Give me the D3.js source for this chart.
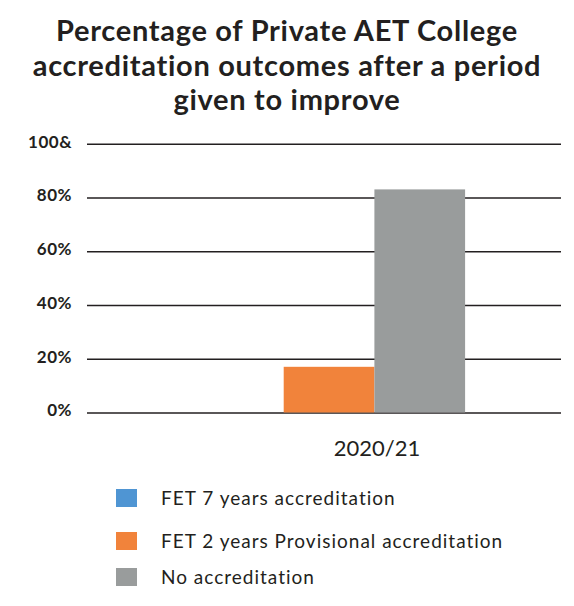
<!DOCTYPE html>
<html>
<head>
<meta charset="utf-8">
<script src="https://cdn.jsdelivr.net/npm/d3@7"></script>
<style>
  html, body { margin: 0; padding: 0; background: #fff; }
  svg { display: block; }
</style>
</head>
<body>
<svg id="chart" width="574" height="606"></svg>
<script>
// Chart data
const titleLines = [
  "Percentage of Private AET College",
  "accreditation outcomes after a period",
  "given to improve"
];
const categories = ["2020/21"];
const seriesNames = [
  "FET 7 years accreditation",
  "FET 2 years Provisional accreditation",
  "No accreditation"
];
const seriesValues = [0, 17, 83];           // percent, one value per series for 2020/21
const seriesColors = ["#4f95d3", "#f1833b", "#999c9c"];
const tickValues = [0, 20, 40, 60, 80, 100];
const tickLabels = ["0%", "20%", "40%", "60%", "80%", "100&"];

const svg = d3.select("#chart");
const W = 574;
const plot = { left: 87, right: 561, top: 143.7, bottom: 412.5 };
const font = "Lato, 'DejaVu Sans', sans-serif";

// Title
svg.append("g")
  .selectAll("text")
  .data(titleLines)
  .join("text")
  .attr("x", W / 2)
  .attr("y", (d, i) => 41 + i * 34.5)
  .attr("text-anchor", "middle")
  .attr("font-family", font)
  .attr("font-weight", 700)
  .attr("font-size", 29)
  .attr("letter-spacing", 0.7)
  .attr("fill", "#231f20")
  .text(d => d);

// Scales
const y = d3.scaleLinear().domain([0, 100]).range([plot.bottom, plot.top]);
const x0 = d3.scaleBand()
  .domain(categories)
  .range([plot.left, plot.right])
  .paddingInner(0)
  .paddingOuter(0.371)
  .align(0.525);
const x1 = d3.scaleBand()
  .domain(seriesNames)
  .range([0, x0.bandwidth()]);

// Horizontal gridlines with percentage labels
const yAxis = d3.axisLeft(y)
  .tickValues(tickValues)
  .tickSize(-(plot.right - plot.left))
  .tickFormat((d, i) => tickLabels[i]);

const gy = svg.append("g")
  .attr("transform", `translate(${plot.left},0)`)
  .call(yAxis);
gy.select(".domain").remove();
gy.selectAll(".tick line")
  .attr("stroke", "#231f20")
  .attr("stroke-width", 1.4);
gy.selectAll(".tick text")
  .attr("x", -15)
  .attr("dy", "0.2em")
  .attr("font-family", font)
  .attr("font-weight", 700)
  .attr("font-size", 17)
  .attr("letter-spacing", 0.5)
  .attr("fill", "#231f20");

// Bars
const rows = categories.map(c => ({
  category: c,
  values: seriesNames.map((s, i) => ({ series: s, value: seriesValues[i], color: seriesColors[i] }))
}));

svg.append("g")
  .selectAll("g")
  .data(rows)
  .join("g")
  .attr("transform", d => `translate(${x0(d.category)},0)`)
  .selectAll("rect")
  .data(d => d.values)
  .join("rect")
  .attr("x", d => x1(d.series))
  .attr("width", x1.bandwidth())
  .attr("y", d => y(d.value))
  .attr("height", d => y(0) - y(d.value))
  .attr("fill", d => d.color);

// Category label
svg.append("g")
  .selectAll("text")
  .data(categories)
  .join("text")
  .attr("x", d => x0(d) + x0.bandwidth() / 2 + 48)
  .attr("y", 456)
  .attr("text-anchor", "middle")
  .attr("font-family", font)
  .attr("font-size", 22)
  .attr("fill", "#231f20")
  .text(d => d);

// Legend
const legendY = [489, 532, 568];
const legend = svg.append("g")
  .selectAll("g")
  .data(seriesNames)
  .join("g")
  .attr("transform", (d, i) => `translate(116,${legendY[i]})`);
legend.append("rect")
  .attr("width", 21)
  .attr("height", 18)
  .attr("fill", (d, i) => seriesColors[i]);
legend.append("text")
  .attr("x", 45)
  .attr("y", 16)
  .attr("font-family", font)
  .attr("font-size", 19)
  .attr("letter-spacing", 1)
  .attr("fill", "#231f20")
  .text(d => d);
</script>
</body>
</html>
